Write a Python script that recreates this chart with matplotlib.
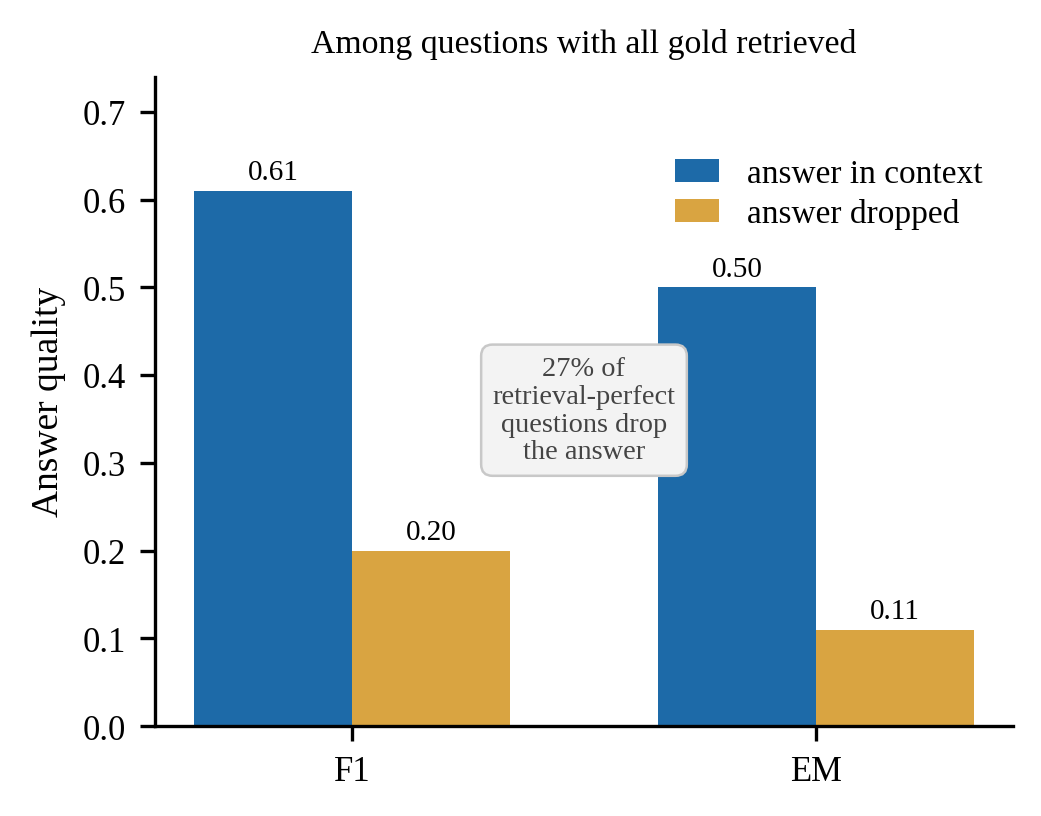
import matplotlib.pyplot as plt
import numpy as np

plt.rcParams['font.family'] = ['Liberation Serif', 'DejaVu Serif']

metrics = ['F1', 'EM']
in_context = [0.61, 0.50]
dropped = [0.20, 0.11]
series_labels = ['answer in context', 'answer dropped']
colors = ['#1d6aa8', '#d9a441']

fig, ax = plt.subplots(figsize=(3.473, 2.723), dpi=300)
x = np.arange(len(metrics))
w = 0.34

b1 = ax.bar(x - w / 2, in_context, w, color=colors[0], label=series_labels[0])
b2 = ax.bar(x + w / 2, dropped, w, color=colors[1], label=series_labels[1])

for bars in (b1, b2):
    for b in bars:
        ax.text(b.get_x() + b.get_width() / 2, b.get_height() + 0.006,
                f'{b.get_height():.2f}', ha='center', va='bottom', fontsize=7)

ax.text(0.5, 0.36, '27% of\nretrieval-perfect\nquestions drop\nthe answer',
        ha='center', va='center', fontsize=6.8, color='#444444', linespacing=1.15,
        bbox=dict(boxstyle='round,pad=0.4', facecolor='#f3f3f3', edgecolor='#c8c8c8', linewidth=0.6))

ax.set_xticks(x)
ax.set_xticklabels(metrics, fontsize=8.3)
ax.tick_params(axis='y', labelsize=8.3)
ax.set_ylim(0, 0.74)
ax.set_yticks(np.arange(0, 0.71, 0.1))
ax.set_ylabel('Answer quality', fontsize=9)
ax.set_title('Among questions with all gold retrieved', fontsize=8.1)
ax.spines['top'].set_visible(False)
ax.spines['right'].set_visible(False)
ax.legend(frameon=False, fontsize=8, loc='upper right', bbox_to_anchor=(1.0, 0.92),
          handlelength=1.3, handleheight=0.65, handletextpad=0.85, labelspacing=0.27)

plt.subplots_adjust(left=0.149, right=0.972, bottom=0.11, top=0.905)
plt.savefig('out.png', dpi=300)
